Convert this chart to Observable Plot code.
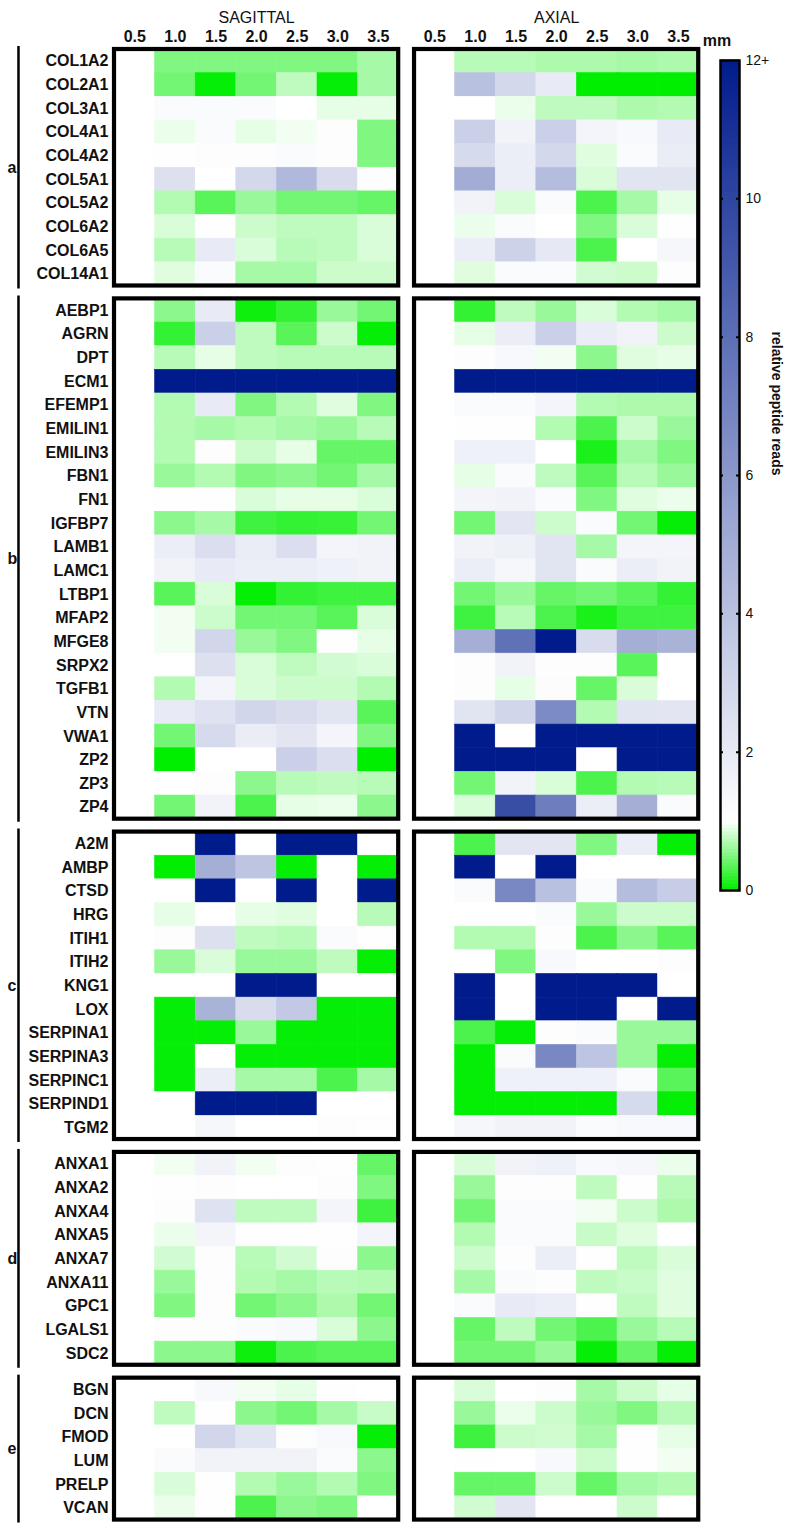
<!DOCTYPE html>
<html><head><meta charset="utf-8">
<script src="https://cdn.jsdelivr.net/npm/d3@7"></script>
<script src="https://cdn.jsdelivr.net/npm/@observablehq/plot@0.6"></script>
<style>
body{margin:0;background:#fff;}
#wrap{position:relative;width:786px;height:1530px;overflow:hidden;}
#bar{position:absolute;left:700px;top:40px;}
#main{position:absolute;left:0;top:0;}
</style></head><body><div id="wrap"><div id="main"></div><div id="bar"></div></div>
<script>
// ---------------- data ----------------
const columns = ["0.5","1.0","1.5","2.0","2.5","3.0","3.5"];
const planes = ["SAGITTAL","AXIAL"];
const groupLetters = ["a","b","c","d","e"];

const genesA = ["COL1A2","COL2A1","COL3A1","COL4A1","COL4A2","COL5A1","COL5A2","COL6A2","COL6A5","COL14A1"];
const sagittalA = [
 [1,0.5,0.5,0.5,0.5,0.5,0.65],
 [1,0.45,0.02,0.45,0.75,0.02,0.65],
 [1,1.2,1.2,1.2,1.0,0.9,0.9],
 [1,0.92,1.2,0.9,0.95,1.1,0.5],
 [1,1.05,1.1,1.1,1.2,1.1,0.5],
 [1,2.5,1.0,2.9,4.4,2.7,1.1],
 [1,0.7,0.35,0.6,0.45,0.45,0.4],
 [1,0.85,1.05,0.8,0.75,0.75,0.85],
 [1,0.72,2.0,0.85,0.72,0.75,0.85],
 [1,0.88,1.2,0.65,0.65,0.8,0.8]];
const axialA = [
 [1,0.72,0.72,0.68,0.68,0.65,0.68],
 [1,4.0,2.9,2.0,0.0,0.0,0.0],
 [1,1.0,0.92,0.75,0.75,0.68,0.7],
 [1,3.3,1.6,3.3,1.5,1.3,2.0],
 [1,2.8,1.8,2.9,0.88,1.2,1.9],
 [1,5.0,1.8,4.2,0.85,2.3,2.3],
 [1,1.6,0.85,1.2,0.3,0.65,0.9],
 [1,0.92,1.2,1.0,0.5,0.85,1.05],
 [1,1.8,3.2,2.1,0.3,1.0,1.4],
 [1,0.88,1.2,1.2,0.82,0.8,1.1]];

const genesB = ["AEBP1","AGRN","DPT","ECM1","EFEMP1","EMILIN1","EMILIN3","FBN1","FN1","IGFBP7","LAMB1","LAMC1","LTBP1","MFAP2","MFGE8","SRPX2","TGFB1","VTN","VWA1","ZP2","ZP3","ZP4"];
const sagittalB = [
 [1,0.55,2.0,0.05,0.2,0.6,0.45],
 [1,0.2,3.3,0.75,0.35,0.8,0.02],
 [1,0.72,0.9,0.75,0.72,0.72,0.72],
 [1,12,12,12,12,12,12],
 [1,0.7,2.0,0.5,0.7,0.88,0.5],
 [1,0.7,0.65,0.7,0.65,0.6,0.72],
 [1,0.7,1.1,0.8,0.9,0.4,0.4],
 [1,0.6,0.7,0.5,0.55,0.45,0.65],
 [1,1.05,1.05,0.85,0.9,0.9,0.85],
 [1,0.55,0.65,0.25,0.2,0.22,0.45],
 [1,1.8,2.6,1.9,2.6,1.5,1.6],
 [1,1.6,2.0,1.8,1.8,1.7,1.6],
 [1,0.35,0.85,0.02,0.2,0.25,0.25],
 [1,0.95,0.8,0.45,0.45,0.35,0.85],
 [1,0.95,3.0,0.6,0.5,1.05,0.9],
 [1,1.0,2.5,0.85,0.75,0.82,0.85],
 [1,0.7,1.5,0.85,0.8,0.8,0.7],
 [1,2.0,2.4,3.0,2.7,2.3,0.35],
 [1,0.45,2.8,1.9,2.2,1.5,0.5],
 [1,0.0,1.0,1.0,3.3,2.6,0.0],
 [1,1.0,1.1,0.55,0.72,0.75,0.72],
 [1,0.45,1.6,0.3,0.9,0.92,0.55]];
const axialB = [
 [1,0.2,0.75,0.6,0.85,0.7,0.65],
 [1,0.9,1.8,3.3,1.9,1.6,0.8],
 [1,1.1,1.3,0.95,0.55,0.88,0.9],
 [1,12,12,12,12,12,12],
 [1,1.2,1.2,1.5,0.7,0.68,0.68],
 [1,1.05,1.05,0.7,0.3,0.8,0.6],
 [1,1.7,1.7,1.0,0.1,0.65,0.5],
 [1,0.9,1.2,0.75,0.35,0.72,0.6],
 [1,1.5,1.6,1.2,0.5,0.88,0.92],
 [1,0.45,2.2,0.8,1.2,0.45,0.02],
 [1,1.6,1.7,2.3,0.65,1.5,1.5],
 [1,1.8,1.4,2.3,1.2,1.8,1.6],
 [1,0.45,0.6,0.4,0.45,0.35,0.2],
 [1,0.25,0.72,0.3,0.1,0.25,0.25],
 [1,4.9,7.9,12,2.7,4.9,4.7],
 [1,1.1,1.6,1.1,1.1,0.35,1.0],
 [1,1.1,0.9,1.15,0.4,0.85,1.0],
 [1,2.3,3.0,6.6,0.7,2.3,2.2],
 [1,12,1.0,12,12,12,12],
 [1,12,12,12,1.0,12,12],
 [1,0.45,1.6,0.85,0.3,0.7,0.72],
 [1,0.85,9.6,7.3,1.8,4.9,1.2]];

const genesC = ["A2M","AMBP","CTSD","HRG","ITIH1","ITIH2","KNG1","LOX","SERPINA1","SERPINA3","SERPINC1","SERPIND1","TGM2"];
const sagittalC = [
 [1,1.0,12,1.0,12,12,1.0],
 [1,0.0,4.9,3.8,0.02,1.0,0.02],
 [1,1.0,12,1.0,12,1.0,12],
 [1,0.9,1.0,0.9,0.88,1.0,0.72],
 [1,1.1,2.5,0.75,0.72,1.2,1.05],
 [1,0.6,0.85,0.6,0.6,0.75,0.02],
 [1,1.0,1.0,12,12,1.0,1.0],
 [1,0.02,4.7,2.7,3.6,0.02,0.02],
 [1,0.02,0.02,0.6,0.02,0.02,0.02],
 [1,0.02,1.0,0.02,0.02,0.02,0.02],
 [1,0.02,1.8,0.65,0.65,0.3,0.65],
 [1,1.0,12,12,12,1.0,1.0],
 [1,1.0,1.4,1.0,1.0,1.1,1.05]];
const axialC = [
 [1,0.3,2.2,2.2,0.5,1.8,0.02],
 [1,12,1.0,12,1.0,1.0,1.0],
 [1,1.2,6.8,4.0,1.2,4.2,3.4],
 [1,1.0,1.0,1.2,0.6,0.8,0.8],
 [1,0.7,0.7,1.1,0.3,0.55,0.35],
 [1,1.0,0.5,1.3,1.0,1.0,1.1],
 [1,12,1.0,12,12,12,1.0],
 [1,12,1.0,12,12,1.0,12],
 [1,0.3,0.02,1.1,1.2,0.6,0.6],
 [1,0.02,1.2,6.8,3.8,0.6,0.02],
 [1,0.02,1.7,1.7,1.7,1.2,0.35],
 [1,0.02,0.02,0.02,0.02,2.8,0.02],
 [1,1.4,1.6,1.6,1.2,1.3,1.3]];

const genesD = ["ANXA1","ANXA2","ANXA4","ANXA5","ANXA7","ANXA11","GPC1","LGALS1","SDC2"];
const sagittalD = [
 [1,0.95,1.6,0.95,1.1,1.05,0.4],
 [1,1.05,1.1,1.0,1.0,1.1,0.5],
 [1,1.1,2.4,0.75,0.75,1.5,0.25],
 [1,0.92,1.5,1.05,1.05,1.05,1.5],
 [1,0.82,1.1,0.72,0.82,1.1,0.55],
 [1,0.6,1.1,0.7,0.65,0.72,0.7],
 [1,0.5,1.1,0.45,0.55,0.68,0.45],
 [1,1.1,1.1,1.2,1.3,0.85,0.55],
 [1,0.55,0.55,0.05,0.3,0.35,0.35]];
const axialD = [
 [1,0.85,1.6,1.7,1.3,1.4,0.92],
 [1,0.6,1.1,1.1,0.75,1.05,0.72],
 [1,0.45,1.2,1.2,0.95,0.8,0.68],
 [1,0.7,1.2,1.2,0.78,0.88,1.0],
 [1,0.8,1.1,1.8,1.05,0.75,0.85],
 [1,0.65,1.2,1.1,0.75,0.78,0.88],
 [1,1.2,2.0,1.8,1.05,0.75,0.88],
 [1,0.4,0.75,0.45,0.3,0.6,0.72],
 [1,0.45,0.45,0.6,0.02,0.4,0.02]];

const genesE = ["BGN","DCN","FMOD","LUM","PRELP","VCAN"];
const sagittalE = [
 [1,1.0,1.3,0.95,0.9,1.05,1.0],
 [1,0.75,1.05,0.55,0.45,0.65,0.78],
 [1,1.0,3.0,2.3,1.1,1.3,0.02],
 [1,1.2,1.6,1.6,1.6,1.2,0.55],
 [1,0.85,1.05,0.7,0.6,0.7,0.5],
 [1,0.92,1.05,0.3,0.55,0.5,1.0]];
const axialE = [
 [1,0.85,1.0,1.1,0.65,0.8,0.9],
 [1,0.6,0.92,0.8,0.6,0.5,0.72],
 [1,0.25,0.8,0.82,0.65,1.05,0.9],
 [1,1.05,1.0,1.3,0.8,1.05,0.95],
 [1,0.4,0.4,0.8,0.4,0.65,0.7],
 [1,0.82,2.2,1.0,1.0,0.8,1.0]];

const colorbarTicks = [0,2,4,6,8,10,12];

// ---------------- layout constants ----------------
const W = 786, H = 1530;
const TOP = 49, ROW_H = 23.65, GAP = 0.545;
const LEFT = 114, COL_W = 40.6, GX = 0.39;
const XMAX = 14 + GX;
const planeOffset = {SAGITTAL: 0, AXIAL: 7 + GX};

const groupsData = [
  {letter: groupLetters[0], genes: genesA, SAGITTAL: sagittalA, AXIAL: axialA},
  {letter: groupLetters[1], genes: genesB, SAGITTAL: sagittalB, AXIAL: axialB},
  {letter: groupLetters[2], genes: genesC, SAGITTAL: sagittalC, AXIAL: axialC},
  {letter: groupLetters[3], genes: genesD, SAGITTAL: sagittalD, AXIAL: axialD},
  {letter: groupLetters[4], genes: genesE, SAGITTAL: sagittalE, AXIAL: axialE}
];

const cells = [], rowTicks = [], groupInfo = [];
let pos = 0;
groupsData.forEach((g, gi) => {
  const start = pos;
  g.genes.forEach((gene, ri) => {
    rowTicks.push({pos: pos + 0.5, gene});
    planes.forEach(p => {
      g[p][ri].forEach((v, ci) => {
        cells.push({plane: p, col: ci, pos, value: v});
      });
    });
    pos += 1;
  });
  groupInfo.push({letter: g.letter, start, end: pos});
  pos += GAP;
});
const totalY = pos - GAP;
const nameAt = new Map(rowTicks.map(d => [d.pos, d.gene]));
const boxes = groupInfo.flatMap(g => planes.map(p => ({...g, plane: p})));
const xTicks = planes.flatMap(p => columns.map((c, i) => ({x: planeOffset[p] + i + 0.5, label: c})));
const xLabel = new Map(xTicks.map(d => [d.x, d.label]));

const colorOpts = {type: "linear", domain: [0, 1, 12], range: ["#00ee00", "#ffffff", "#001c8c"], clamp: true, interpolate: "rgb"};
const FONT = "'Liberation Sans', Arial, sans-serif";

const main = Plot.plot({
  width: W, height: H,
  marginTop: TOP, marginLeft: LEFT,
  marginRight: W - LEFT - XMAX * COL_W,
  marginBottom: H - TOP - totalY * ROW_H,
  style: {fontFamily: FONT, fontSize: "16px", color: "#111"},
  x: {domain: [0, XMAX], axis: null},
  y: {domain: [0, totalY], reverse: true, axis: null},
  color: colorOpts,
  marks: [
    Plot.rect(cells, {
      x1: d => planeOffset[d.plane] + d.col, x2: d => planeOffset[d.plane] + d.col + 1,
      y1: "pos", y2: d => d.pos + 1, fill: "value", stroke: "value", strokeWidth: 0.6
    }),
    Plot.rect(boxes, {
      x1: d => planeOffset[d.plane], x2: d => planeOffset[d.plane] + 7,
      y1: "start", y2: "end", fill: "none", stroke: "#000", strokeWidth: 4.2
    }),
    Plot.axisX(xTicks.map(d => d.x), {anchor: "top", tickSize: 0, tickPadding: 8,
      tickFormat: d => xLabel.get(d), fontSize: 16, fontWeight: "bold", label: null}),
    Plot.text(["mm"], {x: () => XMAX, frameAnchor: "top", dy: -15, dx: 4,
      textAnchor: "start", fontSize: 16, fontWeight: "bold"}),
    Plot.text(planes, {x: p => planeOffset[p] + 3.5, frameAnchor: "top", dy: -38,
      fontSize: 16}),
    Plot.axisY(rowTicks.map(d => d.pos), {anchor: "left", tickSize: 0, tickPadding: 6,
      tickFormat: d => nameAt.get(d), fontSize: 16, fontWeight: "bold", label: null}),
    Plot.ruleX(groupInfo, {x: () => -2.365, y1: "start", y2: "end", stroke: "#000",
      strokeWidth: 2.5, insetTop: -3, insetBottom: -3}),
    Plot.text(groupInfo, {y: d => (d.start + d.end) / 2, text: "letter", frameAnchor: "left",
      dx: -107, fontSize: 16, fontWeight: "bold"})
  ]
});
document.getElementById("main").appendChild(main);

// ---------------- colour bar ----------------
const steps = d3.range(0, 12, 0.05);
const bar = Plot.plot({
  width: 86, height: 862,
  marginTop: 20, marginBottom: 12, marginLeft: 20, marginRight: 47,
  style: {fontFamily: FONT, fontSize: "14px", color: "#111", overflow: "visible"},
  x: {axis: null},
  y: {domain: [0, 12], axis: null},
  color: colorOpts,
  marks: [
    Plot.rect(steps, {y1: d => d, y2: d => d + 0.05, fill: d => d + 0.025, insetTop: -0.4, insetBottom: -0.4}),
    Plot.tickY(colorbarTicks.slice(1, -1), {stroke: "#000", strokeWidth: 2, strokeDasharray: "3,13,3"}),
    Plot.frame({stroke: "#000", strokeWidth: 2.5}),
    Plot.axisY(colorbarTicks, {anchor: "right", tickSize: 0, tickPadding: 6,
      tickFormat: d => d === 12 ? "12+" : String(d), fontSize: 14, label: null}),
    Plot.text(["relative peptide reads"], {frameAnchor: "right", dx: 37, rotate: 90,
      fontSize: 14, fontWeight: "bold"})
  ]
});
document.getElementById("bar").appendChild(bar);
</script>
</body></html>
